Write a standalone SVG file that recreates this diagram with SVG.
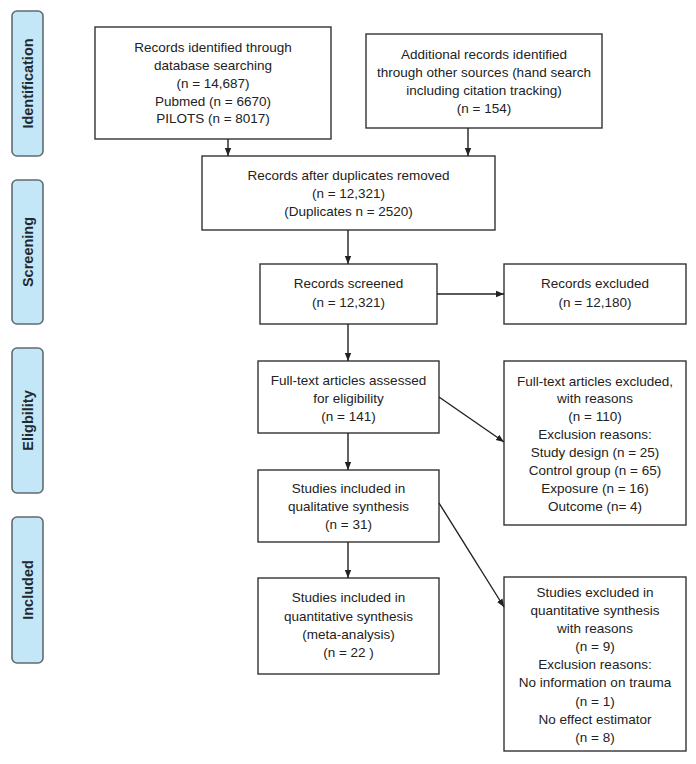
<svg xmlns="http://www.w3.org/2000/svg" width="696" height="764" viewBox="0 0 696 764">
<defs>
<marker id="ah" markerWidth="8" markerHeight="8" refX="8" refY="4" orient="auto" markerUnits="userSpaceOnUse">
<path d="M0,0.8 L8,4 L0,7.2 Z" fill="#222"/>
</marker>
<style>
.box{fill:#fff;stroke:#333;stroke-width:1.4}
.side{fill:#c4e7f7;stroke:#5f6b74;stroke-width:1.6}
.t{font-family:"Liberation Sans",Arial,sans-serif;font-size:13.5px;fill:#222;text-anchor:middle}
.s{font-family:"Liberation Sans",Arial,sans-serif;font-size:14.5px;font-weight:bold;fill:#1e2a33;text-anchor:middle}
.c{stroke:#222;stroke-width:1.4;fill:none;marker-end:url(#ah)}
</style>
</defs>
<rect width="696" height="764" fill="#fff"/>

<g id="side-identification"><rect class="side" x="12" y="11" width="31" height="145" rx="5"/><text class="s" transform="translate(32.5,83.5) rotate(-90)">Identification</text></g>
<g id="side-screening"><rect class="side" x="12" y="180" width="31" height="144" rx="5"/><text class="s" transform="translate(32.5,252) rotate(-90)">Screening</text></g>
<g id="side-eligibility"><rect class="side" x="12" y="348" width="31" height="145" rx="5"/><text class="s" transform="translate(32.5,420.5) rotate(-90)">Eligbility</text></g>
<g id="side-included"><rect class="side" x="12" y="517" width="31" height="146" rx="5"/><text class="s" transform="translate(32.5,590) rotate(-90)">Included</text></g>

<g id="n-database"><rect class="box" x="95" y="27" width="236" height="112"/>
<text class="t" x="213" y="52">Records identified through</text>
<text class="t" x="213" y="70">database searching</text>
<text class="t" x="213" y="88">(n = 14,687)</text>
<text class="t" x="213" y="106">Pubmed (n = 6670)</text>
<text class="t" x="213" y="123">PILOTS (n = 8017)</text></g>

<g id="n-additional"><rect class="box" x="366" y="34" width="236" height="94"/>
<text class="t" x="484" y="59">Additional records identified</text>
<text class="t" x="484" y="77">through other sources (hand search</text>
<text class="t" x="484" y="95">including citation tracking)</text>
<text class="t" x="484" y="113">(n = 154)</text></g>

<g id="n-dedup"><rect class="box" x="202" y="156" width="293" height="74"/>
<text class="t" x="348.5" y="180">Records after duplicates removed</text>
<text class="t" x="348.5" y="198">(n = 12,321)</text>
<text class="t" x="348.5" y="216">(Duplicates n = 2520)</text></g>

<g id="n-screened"><rect class="box" x="260" y="264" width="177" height="60"/>
<text class="t" x="348.5" y="288">Records screened</text>
<text class="t" x="348.5" y="307">(n = 12,321)</text></g>

<g id="n-excluded"><rect class="box" x="504" y="264" width="182" height="60"/>
<text class="t" x="595" y="288">Records excluded</text>
<text class="t" x="595" y="307">(n = 12,180)</text></g>

<g id="n-fulltext"><rect class="box" x="258" y="361" width="181" height="72"/>
<text class="t" x="348.5" y="385">Full-text articles assessed</text>
<text class="t" x="348.5" y="403">for eligibility</text>
<text class="t" x="348.5" y="421">(n = 141)</text></g>

<g id="n-ft-excluded"><rect class="box" x="504" y="361" width="182" height="164"/>
<text class="t" x="595" y="386">Full-text articles excluded,</text>
<text class="t" x="595" y="403">with reasons</text>
<text class="t" x="595" y="421">(n = 110)</text>
<text class="t" x="595" y="439">Exclusion reasons:</text>
<text class="t" x="595" y="457">Study design (n = 25)</text>
<text class="t" x="595" y="475">Control group (n = 65)</text>
<text class="t" x="595" y="493">Exposure (n = 16)</text>
<text class="t" x="595" y="511">Outcome (n= 4)</text></g>

<g id="n-qualitative"><rect class="box" x="258" y="470" width="181" height="72"/>
<text class="t" x="348.5" y="493">Studies included in</text>
<text class="t" x="348.5" y="511">qualitative synthesis</text>
<text class="t" x="348.5" y="529">(n = 31)</text></g>

<g id="n-quantitative"><rect class="box" x="258" y="578" width="181" height="96"/>
<text class="t" x="348.5" y="602">Studies included in</text>
<text class="t" x="348.5" y="621">quantitative synthesis</text>
<text class="t" x="348.5" y="639">(meta-analysis)</text>
<text class="t" x="348.5" y="657">(n = 22 )</text></g>

<g id="n-q-excluded"><rect class="box" x="504" y="577" width="182" height="174"/>
<text class="t" x="595" y="597">Studies excluded in</text>
<text class="t" x="595" y="615">quantitative synthesis</text>
<text class="t" x="595" y="633">with reasons</text>
<text class="t" x="595" y="651">(n = 9)</text>
<text class="t" x="595" y="669">Exclusion reasons:</text>
<text class="t" x="595" y="687">No information on trauma</text>
<text class="t" x="595" y="706">(n = 1)</text>
<text class="t" x="595" y="724">No effect estimator</text>
<text class="t" x="595" y="742">(n = 8)</text></g>

<g id="connectors">
<line class="c" x1="228" y1="139" x2="228" y2="156"/>
<line class="c" x1="468" y1="128" x2="468" y2="156"/>
<line class="c" x1="348" y1="230" x2="348" y2="264"/>
<line class="c" x1="437" y1="294" x2="504" y2="294"/>
<line class="c" x1="348" y1="324" x2="348" y2="361"/>
<line class="c" x1="439" y1="397" x2="504" y2="442"/>
<line class="c" x1="348" y1="433" x2="348" y2="470"/>
<line class="c" x1="439" y1="503" x2="504" y2="607"/>
<line class="c" x1="348" y1="542" x2="348" y2="578"/>
</g>
</svg>
